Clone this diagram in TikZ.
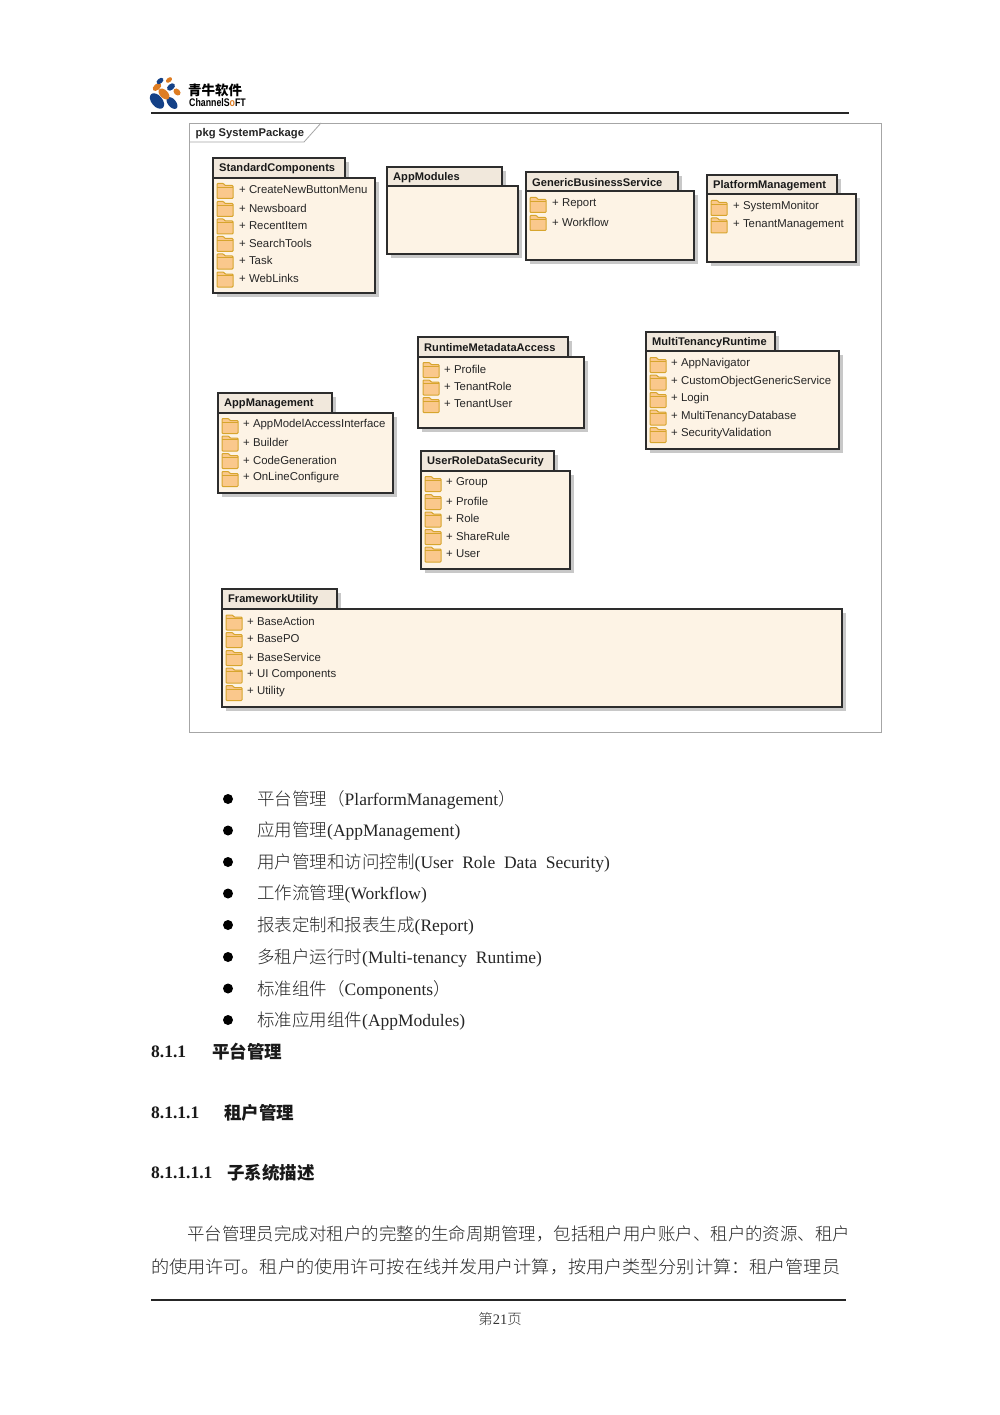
\documentclass[tikz,border=0pt]{standalone}
\usepackage{fontspec}
\setmainfont{Liberation Serif}
\newfontfamily\umlfont{Liberation Sans}
\newfontfamily\cjk{Noto Sans CJK SC}
\newfontfamily\cjkl{Noto Sans CJK SC Light}
\definecolor{pkgfill}{RGB}{253,243,229}
\definecolor{tabfill}{RGB}{241,232,220}
\definecolor{pkgline}{RGB}{45,45,45}
\definecolor{shadowc}{RGB}{200,200,200}
\definecolor{foldfill}{RGB}{250,200,140}
\definecolor{foldline}{RGB}{215,165,45}
\definecolor{logoblue}{RGB}{20,65,135}
\definecolor{logoorange}{RGB}{222,125,35}
\tikzset{
  x=1pt,y=-1pt,
  pkgbody/.style={draw=pkgline,line width=1.15pt,fill=pkgfill},
  pkgtab/.style={draw=pkgline,line width=1.15pt,fill=tabfill},
  pkgshadow/.style={fill=shadowc,draw=none},
  pkgtitle/.style={anchor=west,inner sep=0pt,font=\umlfont\bfseries\fontsize{11.1}{12}\selectfont,text=black!90},
  pkgitem/.style={anchor=west,inner sep=0pt,font=\umlfont\fontsize{11.4}{12}\selectfont,text=black!85},
  bodytext/.style={anchor=west,inner sep=0pt,font=\fontsize{17.5}{20}\selectfont,text=black!85},
  headtext/.style={anchor=west,inner sep=0pt,font=\bfseries\fontsize{17.5}{20}\selectfont,text=black!90},
  bulletdot/.style={circle,fill=black,inner sep=0pt,minimum size=10pt},
}
% name; tab right; top; tab bottom; left; right; bottom
\newcommand{\umlpkg}[8]{%
  \fill[pkgshadow] (#5+4,#3+4) rectangle (#2+4,#4+2);
  \fill[pkgshadow] (#5+4,#4+4) rectangle (#6+4,#7+4);
  \draw[pkgtab] (#5,#3) rectangle (#2,#4);
  \draw[pkgbody] (#5,#4) rectangle (#6,#7);
  \node[pkgtitle] (#8) at (#5+6,#3+10.5) {#1};
}
% x (folder left); y centre; text x; name; text
\newcommand{\umlitem}[5]{%
  \draw[foldline,fill=foldfill,line width=1pt,rounded corners=0.8pt]
    (#1,#2-6) -- (#1+6.5,#2-6) -- (#1+8,#2-4) -- (#1+16,#2-4) -- (#1+16,#2+9) -- (#1,#2+9) -- cycle;
  \draw[foldline,line width=0.7pt] (#1,#2-2.5) -- (#1+16,#2-2.5);
  \node[pkgitem] (#4) at (#3,#2+0.5) {+ #5};
}
\begin{document}
\begin{tikzpicture}
\useasboundingbox (0,0) rectangle (1000,1415);
\fill[white] (0,0) rectangle (1000,1415);
% ----- header
\fill[logoblue,rotate around={-50:(157,101)}] (157,101) ellipse (9 and 5.5);
\fill[logoblue,rotate around={-50:(172,103)}] (172,103) ellipse (7 and 4);
\fill[logoorange,rotate around={-45:(164,94)}] (164,94) ellipse (6.5 and 4);
\fill[logoorange,rotate around={-45:(177,92)}] (177,92) ellipse (4 and 3);
\fill[logoorange,rotate around={40:(157,87)}] (157,87) ellipse (5 and 3);
\fill[logoblue,rotate around={40:(171,87)}] (171,87) ellipse (4.5 and 3);
\fill[logoblue,rotate around={40:(160,81)}] (160,81) ellipse (4 and 2.5);
\fill[logoorange,rotate around={40:(169,80)}] (169,80) ellipse (3.5 and 2.2);
\node[anchor=west,inner sep=0pt,font=\cjk\bfseries\fontsize{13.5}{14}\selectfont] (logoa) at (188,90) {青牛软件};
\node[anchor=west,inner sep=0pt,font=\umlfont\bfseries\fontsize{11}{12}\selectfont,xscale=0.8,transform shape] (logob) at (189,103) {ChannelS\textcolor{logoorange}{o}FT};
\draw[black!85,line width=1.2pt] (151,113) -- (849,113);
% ----- frame
\draw[black!35,line width=0.8pt] (189,123) rectangle (881,732);
\draw[black!35,line width=0.8pt] (189,142) -- (304,142) -- (321,123);
\node[anchor=west,inner sep=0pt,font=\umlfont\bfseries\fontsize{11.2}{12}\selectfont,text=black!85] (frametitle) at (195.5,134) {pkg SystemPackage};
% ----- packages
\umlpkg{StandardComponents}{345}{158}{178}{213}{375}{293}{sc}
\umlitem{217}{189.5}{239}{sca}{CreateNewButtonMenu}
\umlitem{217}{207.5}{239}{scb}{Newsboard}
\umlitem{217}{225}{239}{scc}{RecentItem}
\umlitem{217}{242.5}{239}{scd}{SearchTools}
\umlitem{217}{260}{239}{sce}{Task}
\umlitem{217}{278}{239}{scf}{WebLinks}
\umlpkg{AppModules}{502}{167}{186}{387}{518}{254}{am}
\umlpkg{GenericBusinessService}{678}{172}{191}{526}{694}{260}{gb}
\umlitem{530}{203.5}{552}{gba}{Report}
\umlitem{530}{221.5}{552}{gbb}{Workflow}
\umlpkg{PlatformManagement}{837}{175}{194}{707}{856}{262}{pm}
\umlitem{711}{206.5}{733}{pma}{SystemMonitor}
\umlitem{711}{224}{733}{pmb}{TenantManagement}
\umlpkg{RuntimeMetadataAccess}{568}{337}{357}{418}{584}{428}{rm}
\umlitem{423}{368.5}{444}{rma}{Profile}
\umlitem{423}{386}{444}{rmb}{TenantRole}
\umlitem{423}{403.5}{444}{rmc}{TenantUser}
\umlpkg{MultiTenancyRuntime}{775}{332}{351}{646}{839}{449}{mt}
\umlitem{650}{363.5}{671}{mta}{AppNavigator}
\umlitem{650}{381}{671}{mtb}{CustomObjectGenericService}
\umlitem{650}{398.5}{671}{mtc}{Login}
\umlitem{650}{416}{671}{mtd}{MultiTenancyDatabase}
\umlitem{650}{433.5}{671}{mte}{SecurityValidation}
\umlpkg{AppManagement}{332}{393}{413}{218}{393}{493}{ap}
\umlitem{222}{424.5}{243}{apa}{AppModelAccessInterface}
\umlitem{222}{442}{243}{apb}{Builder}
\umlitem{222}{459.5}{243}{apc}{CodeGeneration}
\umlitem{222}{477.5}{243}{apd}{OnLineConfigure}
\umlpkg{UserRoleDataSecurity}{554}{451}{471}{421}{570}{569}{ur}
\umlitem{425}{482.5}{446}{ura}{Group}
\umlitem{425}{500.5}{446}{urb}{Profile}
\umlitem{425}{518}{446}{urc}{Role}
\umlitem{425}{535.5}{446}{urd}{ShareRule}
\umlitem{425}{553}{446}{ure}{User}
\umlpkg{FrameworkUtility}{337}{589}{609}{222}{842}{707}{fu}
\umlitem{226}{621}{247}{fua}{BaseAction}
\umlitem{226}{638.5}{247}{fub}{BasePO}
\umlitem{226}{656.5}{247}{fuc}{BaseService}
\umlitem{226}{674}{247}{fud}{UI Components}
\umlitem{226}{691.5}{247}{fue}{Utility}
% ----- bullets
\foreach \yy/\nn in {799/a,830.5/b,862/c,893.5/d,925/e,957/f,988.5/g,1020/h}
  \node[bulletdot] (dot\nn) at (228,\yy) {};
\node[bodytext] (la) at (257,800) {{\cjkl 平台管理（}PlarformManagement{\cjkl ）}};
\node[bodytext] (lb) at (257,831.5) {{\cjkl 应用管理}(AppManagement)};
\node[bodytext] (lc) at (257,863) {{\cjkl 用户管理和访问控制}(User\ \ Role\ \ Data\ \ Security)};
\node[bodytext] (ld) at (257,894.5) {{\cjkl 工作流管理}(Workflow)};
\node[bodytext] (le) at (257,926) {{\cjkl 报表定制和报表生成}(Report)};
\node[bodytext] (lf) at (257,958) {{\cjkl 多租户运行时}(Multi-tenancy\ \ Runtime)};
\node[bodytext] (lg) at (257,989.5) {{\cjkl 标准组件（}Components{\cjkl ）}};
\node[bodytext] (lh) at (257,1021) {{\cjkl 标准应用组件}(AppModules)};
% ----- headings
\node[headtext] (ha) at (151,1052) {8.1.1};
\node[headtext] (hat) at (212,1052) {\cjk\bfseries 平台管理};
\node[headtext] (hb) at (151,1112.5) {8.1.1.1};
\node[headtext] (hbt) at (224,1112.5) {\cjk\bfseries 租户管理};
\node[headtext] (hc) at (151,1173) {8.1.1.1.1};
\node[headtext] (hct) at (227,1173) {\cjk\bfseries 子系统描述};
% ----- paragraph
\node[bodytext,xscale=0.997,transform shape] (pa) at (187,1234) {\cjkl 平台管理员完成对租户的完整的生命周期管理，包括租户用户账户、租户的资源、租户};
\node[bodytext,xscale=1.036,transform shape] (pb) at (151,1267) {\cjkl 的使用许可。租户的使用许可按在线并发用户计算，按用户类型分别计算：租户管理员};
% ----- footer
\draw[black!85,line width=1.2pt] (151,1300) -- (846,1300);
\node[inner sep=0pt,font=\fontsize{14.5}{16}\selectfont,text=black!80] (pageno) at (500,1319) {{\cjkl 第}21{\cjkl 页}};
\end{tikzpicture}
\end{document}
